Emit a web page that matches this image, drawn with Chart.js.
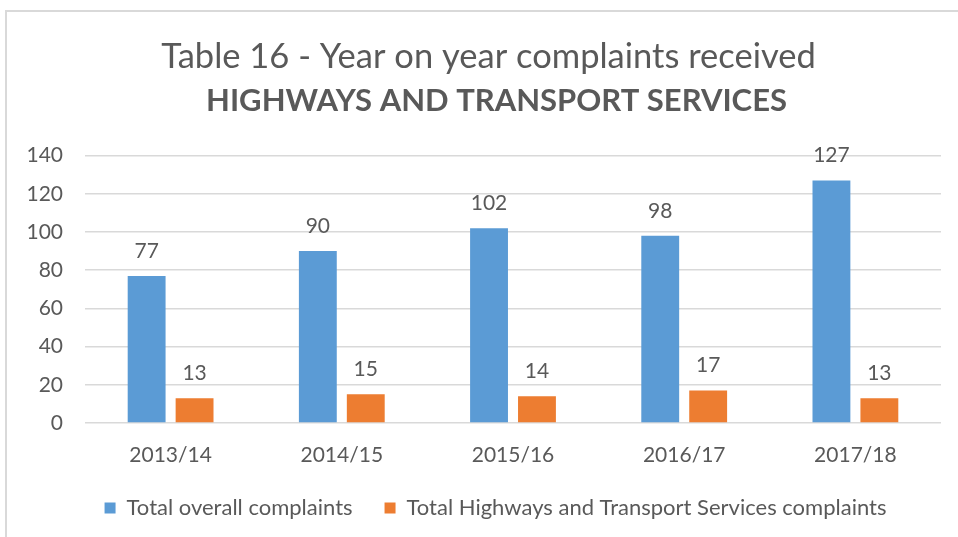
<!DOCTYPE html>
<html>
<head>
<meta charset="utf-8">
<script src="https://cdn.jsdelivr.net/npm/chart.js@4.4.0/dist/chart.umd.min.js"></script>
<style>
  html, body { margin: 0; padding: 0; background: #fff; overflow: hidden; }
  #wrap { position: relative; width: 958px; height: 537px; }
  #frame { position: absolute; left: 5px; top: 10px; width: 980px; height: 560px; border: 2px solid #d9d9d9; box-sizing: border-box; pointer-events: none; }
  canvas { position: absolute; left: 0; top: 0; }
</style>
</head>
<body>
<div id="wrap">
  <canvas id="c" width="958" height="537"></canvas>
  <div id="frame"></div>
</div>
<script>
const categories = ['2013/14', '2014/15', '2015/16', '2016/17', '2017/18'];
const overallComplaints = [77, 90, 102, 98, 127];
const highwaysComplaints = [13, 15, 14, 17, 13];
const seriesNames = ['Total overall complaints', 'Total Highways and Transport Services complaints'];
const yTicks = [0, 20, 40, 60, 80, 100, 120, 140];
const titleLine1 = 'Table 16 - Year on year complaints received';
const titleLine2 = 'HIGHWAYS AND TRANSPORT SERVICES';

const textColor = '#595959';
const fontFamily = 'Lato, "Open Sans", sans-serif';

const valueLabels = {
  id: 'valueLabels',
  afterDatasetsDraw(chart) {
    const ctx = chart.ctx;
    ctx.save();
    ctx.font = '21px ' + fontFamily;
    ctx.fillStyle = textColor;
    ctx.textAlign = 'center';
    ctx.textBaseline = 'middle';
    chart.data.datasets.forEach((ds, i) => {
      const meta = chart.getDatasetMeta(i);
      meta.data.forEach((el, j) => {
        ctx.fillText(String(ds.data[j]), el.x, el.y - 25);
      });
    });
    ctx.restore();
  }
};

// shift the centred title blocks and legend slightly right, as in the original layout
const boxNudge = {
  id: 'boxNudge',
  afterLayout(chart) {
    chart.boxes.forEach(b => {
      let dx = 0;
      if (b === chart.legend) dx = 12;
      else if (b.options && b.options.text === titleLine1) dx = 5;
      else if (b.options && b.options.text === titleLine2) dx = 13;
      if (dx) { b.left += dx; b.right += dx; }
    });
  }
};

new Chart(document.getElementById('c'), {
  type: 'bar',
  data: {
    labels: categories,
    datasets: [
      { label: seriesNames[0], data: overallComplaints, backgroundColor: '#5b9bd5', categoryPercentage: 0.56, barPercentage: 0.79 },
      { label: seriesNames[1], data: highwaysComplaints, backgroundColor: '#ed7d31', categoryPercentage: 0.56, barPercentage: 0.79 }
    ]
  },
  options: {
    responsive: false,
    animation: false,
    layout: { padding: { left: 26, right: 17, top: 36, bottom: 8 } },
    plugins: {
      title: {
        display: true,
        text: titleLine1,
        color: textColor,
        font: { family: fontFamily, size: 34.5, weight: 'normal' },
        padding: { top: 0, bottom: 5 }
      },
      subtitle: {
        display: true,
        text: titleLine2,
        color: textColor,
        font: { family: fontFamily, size: 31, weight: 'bold' },
        padding: { top: 0, bottom: 36 }
      },
      legend: {
        position: 'bottom',
        labels: {
          color: textColor,
          font: { family: fontFamily, size: 22 },
          boxWidth: 11,
          boxHeight: 11,
          padding: 32
        }
      },
      tooltip: { enabled: false }
    },
    scales: {
      x: {
        grid: { display: false, drawTicks: false },
        border: { display: false },
        ticks: { color: textColor, font: { family: fontFamily, size: 21, lineHeight: 1 }, padding: 21.5 },
        afterFit(scale) { scale.height = 42; }
      },
      y: {
        min: yTicks[0], max: yTicks[yTicks.length - 1],
        afterBuildTicks(scale) { scale.ticks = yTicks.map(v => ({ value: v })); },
        ticks: { color: textColor, font: { family: fontFamily, size: 21 }, padding: 22 },
        grid: { color: '#d9d9d9', lineWidth: 1.5, drawTicks: false },
        border: { display: false },
        afterFit(scale) { scale.width = 59; }
      }
    }
  },
  plugins: [valueLabels, boxNudge]
});
</script>
</body>
</html>
